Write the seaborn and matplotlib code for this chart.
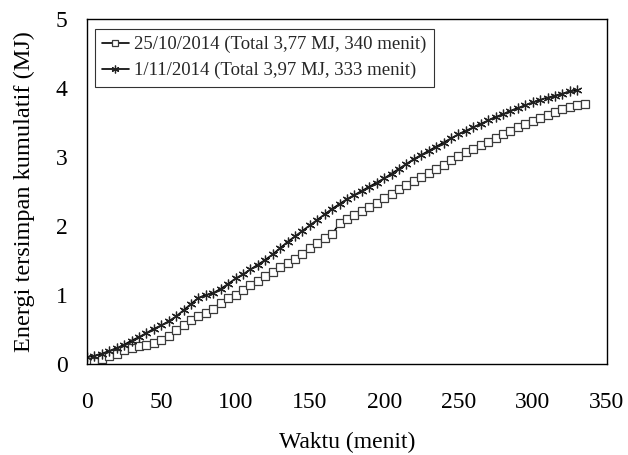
import numpy as np
import pandas as pd
import matplotlib
matplotlib.use("Agg")
import matplotlib.pyplot as plt
import seaborn as sns

# Series 1: 25/10/2014 (squares)
t1 = list(range(5, 340, 5))
e1 = [0.03, 0.07, 0.11, 0.15, 0.20, 0.23, 0.26, 0.28, 0.31, 0.35,
      0.41, 0.49, 0.57, 0.64, 0.70, 0.74, 0.80, 0.89, 0.95, 1.00,
      1.07, 1.14, 1.21, 1.28, 1.34, 1.40, 1.46, 1.52, 1.60, 1.68,
      1.75, 1.82, 1.88, 2.04, 2.10, 2.16, 2.22, 2.28, 2.34, 2.40,
      2.47, 2.53, 2.59, 2.65, 2.71, 2.77, 2.83, 2.89, 2.95, 3.01,
      3.07, 3.12, 3.17, 3.22, 3.28, 3.33, 3.38, 3.43, 3.48, 3.52,
      3.57, 3.61, 3.65, 3.69, 3.72, 3.76, 3.77]

# Series 2: 1/11/2014 (asterisks)
t2 = list(range(0, 335, 5))
e2 = [0.10, 0.12, 0.15, 0.19, 0.23, 0.28, 0.34, 0.39, 0.45, 0.51,
      0.56, 0.62, 0.69, 0.78, 0.87, 0.96, 1.00, 1.03, 1.09, 1.16,
      1.24, 1.30, 1.37, 1.44, 1.51, 1.59, 1.68, 1.77, 1.85, 1.93,
      2.01, 2.09, 2.17, 2.25, 2.32, 2.39, 2.45, 2.51, 2.57, 2.63,
      2.69, 2.76, 2.83, 2.90, 2.97, 3.03, 3.09, 3.15, 3.21, 3.27,
      3.33, 3.38, 3.43, 3.48, 3.53, 3.58, 3.62, 3.67, 3.71, 3.75,
      3.79, 3.83, 3.86, 3.89, 3.92, 3.95, 3.97]

label1 = "25/10/2014 (Total 3,77 MJ, 340 menit)"
label2 = "1/11/2014 (Total 3,97 MJ, 333 menit)"
xticks = [0, 50, 100, 150, 200, 250, 300, 350]
yticks = [0, 1, 2, 3, 4, 5]

sns.set_theme(style="white")
plt.rcParams["font.family"] = ["Liberation Serif", "DejaVu Serif"]

fig = plt.figure(figsize=(6.28, 4.55), dpi=100)
ax = fig.add_axes([87/628, 1-364/455, 520/628, 345/455])

sns.lineplot(x=t1, y=e1, ax=ax, color="black", linewidth=1.2,
             marker="s", markersize=5.8, markerfacecolor="white",
             markeredgecolor="#3a3a3a", markeredgewidth=0.9, label=label1)
sns.lineplot(x=t2, y=e2, ax=ax, color="black", linewidth=1.2,
             marker=(6, 2, 0), markersize=7,
             markeredgecolor="#222222", markeredgewidth=0.9, label=label2)

ax.set_xlim(0, 350)
ax.set_ylim(0, 5)
ax.set_xticks(xticks)
ax.set_yticks(yticks)
ax.tick_params(axis="both", direction="out", length=6, width=1, color="black",
               labelsize=17, labelcolor="black")
ax.tick_params(axis="x", pad=14)
ax.tick_params(axis="y", pad=8)
for s in ax.spines.values():
    s.set_visible(True)
    s.set_color("black")
    s.set_linewidth(1)

ax.set_xlabel("Waktu (menit)", fontsize=17, color="black", labelpad=14)
ax.set_ylabel("Energi tersimpan kumulatif (MJ)", fontsize=17.5, color="black", labelpad=15)

leg = ax.legend(loc="upper left", bbox_to_anchor=(0.015, 0.972), borderaxespad=0,
                fontsize=13.5, frameon=True, fancybox=False, edgecolor="black",
                handlelength=1.4, handletextpad=0.3, labelspacing=0.45,
                borderpad=0.4, markerscale=0.8)
leg.get_frame().set_linewidth(0.8)

fig.savefig("out.png", dpi=100)
